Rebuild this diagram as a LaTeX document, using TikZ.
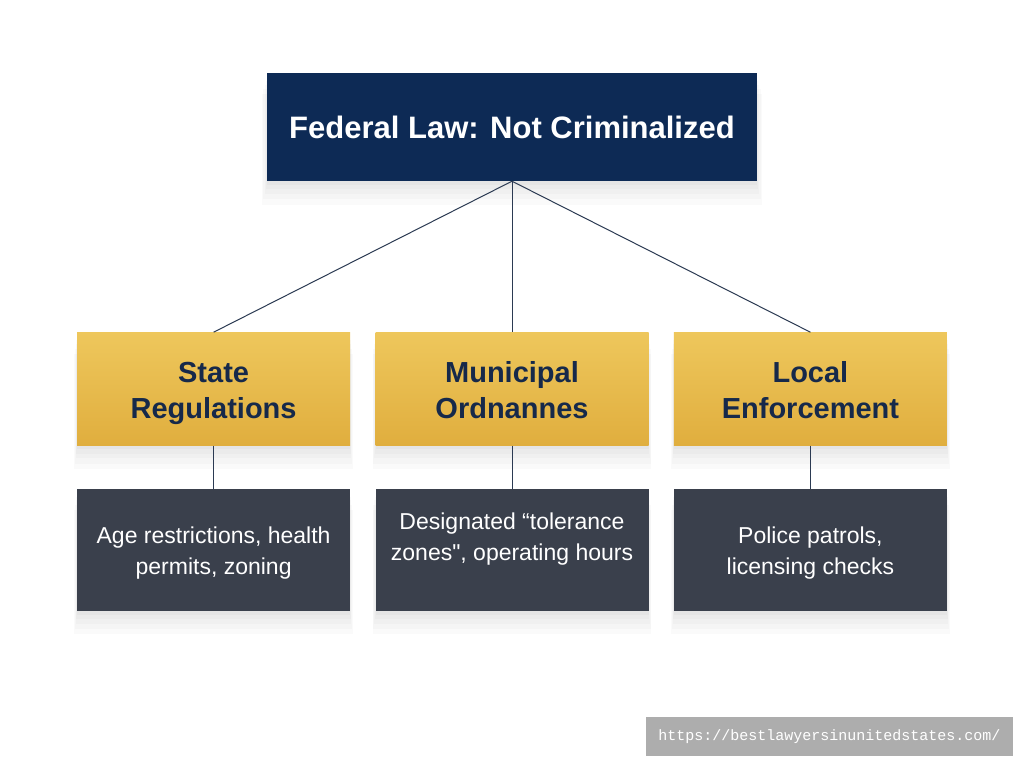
\documentclass[tikz,border=0pt]{standalone}
\usepackage{fontspec}
\setmainfont{Liberation Sans}
\setmonofont{Liberation Mono}
\newfontfamily\plainsans{Liberation Sans}
\usetikzlibrary{positioning,shadows}
\definecolor{fedblue}{HTML}{0D2A55}
\definecolor{goldtop}{HTML}{EEC75C}
\definecolor{goldbot}{HTML}{E0AE3E}
\definecolor{goldtext}{HTML}{16294A}
\definecolor{slate}{HTML}{3A404C}
\definecolor{linecol}{HTML}{2B3A52}
\definecolor{markgray}{HTML}{ADADAD}
\newcommand\topstrut[1]{\rule{0pt}{#1}}
\newcommand\botstrut[1]{\rule[-#1]{0pt}{#1}}
\newcommand\lvltext[2]{\topstrut{30pt}#1\\#2\botstrut{7pt}}
\newcommand\infotext[3][5pt]{\topstrut{24pt}#2\\#3\botstrut{#1}}
\begin{document}
\begin{tikzpicture}[x=1pt, y=-1pt, node distance = {151pt and 25pt},
    box/.style = {inner sep=0pt, align=center, minimum width=273pt},
    soft/.style = {general shadow={shadow scale=1.02, shadow yshift=-22pt, fill=black, opacity=0.018},
        general shadow={shadow scale=1.015, shadow yshift=-17pt, fill=black, opacity=0.02},
        general shadow={shadow scale=1.01, shadow yshift=-12pt, fill=black, opacity=0.02},
        general shadow={shadow scale=1.005, shadow yshift=-8pt, fill=black, opacity=0.02},
        general shadow={shadow scale=1, shadow yshift=-4pt, fill=black, opacity=0.025}},
    head/.style = {box, soft, fill=fedblue, text=white, minimum width=490pt, minimum height=108pt, font=\bfseries\fontsize{31}{36}\selectfont},
    level/.style = {box, soft, top color=goldtop, bottom color=goldbot, text=goldtext, minimum height=113pt, font=\bfseries\fontsize{29}{36}\selectfont},
    info/.style = {box, soft, fill=slate, text=white, minimum height=122pt, font=\fontsize{23}{31}\selectfont},
    link/.style = {draw=linecol, line width=1pt}]
    \useasboundingbox[fill=white] (0,0) rectangle (1024,768);

    \node[head] (fed) at (512,127) {Federal Law: Not Criminalized};
    \node[level] (municipal) [below=of fed] {\lvltext{Municipal}{Ordnannes}};
    \node[level] (state) [left=of municipal] {\lvltext{State}{Regulations}};
    \node[level] (local) [right=of municipal] {\lvltext{Local}{Enforcement}};

    \node[info] (state info) [below=43pt of state] {\infotext{Age restrictions, health}{permits, zoning}};
    \node[info] (municipal info) [below=43pt of municipal] {\infotext[34pt]{Designated “tolerance}{zones{\plainsans"}, operating hours}};
    \node[info] (local info) [below=43pt of local] {\infotext{Police patrols,}{licensing checks}};

    \draw[link] (fed.south) -- (state.north);
    \draw[link] (fed.south) -- (municipal.north);
    \draw[link] (fed.south) -- (local.north);
    \draw[link] (state.south) -- (state info.north);
    \draw[link] (municipal.south) -- (municipal info.north);
    \draw[link] (local.south) -- (local info.north);

    \node[fill=markgray, text=white, inner sep=0pt, minimum width=367pt, minimum height=39pt, font=\ttfamily\fontsize{15}{15}\selectfont] (url) at (829.5,736.5) {https://bestlawyersinunitedstates.com/};
\end{tikzpicture}
\end{document}
